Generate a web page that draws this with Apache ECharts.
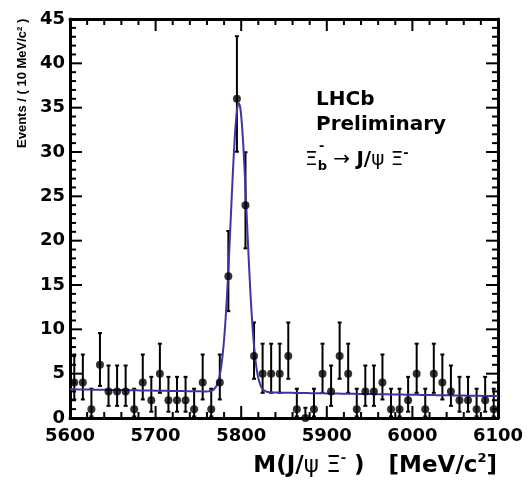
<!DOCTYPE html>
<html>
<head>
<meta charset="utf-8">
<script src="https://cdn.jsdelivr.net/npm/echarts@6/dist/echarts.min.js"></script>
<style>
html,body{margin:0;padding:0;background:#fff;}
#chart{width:528px;height:484px;}
</style>
</head>
<body>
<div id="chart"></div>
<script>
// ---- data ----
const binCenters = [5605,5615,5625,5635,5645,5655,5665,5675,5685,5695,
                    5705,5715,5725,5735,5745,5755,5765,5775,5785,5795,
                    5805,5815,5825,5835,5845,5855,5865,5875,5885,5895,
                    5905,5915,5925,5935,5945,5955,5965,5975,5985,5995,
                    6005,6015,6025,6035,6045,6055,6065,6075,6085,6095];
const counts = [4,4,1,6,3,3,3,1,4,2,
                5,2,2,2,1,4,1,4,16,36,
                24,7,5,5,5,7,1,0,1,5,
                3,7,5,1,3,3,4,1,1,2,
                5,1,5,4,3,2,2,1,2,1];
// Poisson 68% interval (low, high) by count
const poissonLow  = {0:0,    1:0.17, 2:0.71, 3:1.37, 4:2.09, 5:2.84, 6:3.62, 7:4.42, 16:12.05, 24:19.14, 36:30.03};
const poissonHigh = {0:1.15, 1:3.30, 2:4.64, 3:5.92, 4:7.16, 5:8.38, 6:9.58, 7:10.77, 16:21.09, 24:29.97, 36:43.06};
const xTicks = [5600,5700,5800,5900,6000,6100];
const yTicks = [0,5,10,15,20,25,30,35,40,45];
// fit model parameters (Gaussian signal + linear background)
const fitMean = 5797.2;
const fitSigma = 9.3;
const fitPeak = 32.6;
const bkgAt5600 = 3.24;
const bkgSlope = -0.00155;

const X_MIN = 5600, X_MAX = 6100, Y_MIN = 0, Y_MAX = 45;

const points = binCenters.map((x,i)=>[x, counts[i]]);
const errs = binCenters.map((x,i)=>[x, poissonLow[counts[i]], poissonHigh[counts[i]]]);
const fitCurve = [];
for (let m = X_MIN; m <= X_MAX; m += 0.5) {
  const d = (m - fitMean) / fitSigma;
  fitCurve.push([m, bkgAt5600 + bkgSlope*(m-X_MIN) + fitPeak*Math.exp(-0.5*d*d)]);
}
// tick marks (ROOT style: inside, on all four sides); minor step 20 on x, 1 on y
const tickMarks = [];
for (let v = X_MIN; v <= X_MAX; v += 20) tickMarks.push([v, 0, xTicks.includes(v) ? 1 : 0]);
for (let v = Y_MIN; v <= Y_MAX; v += 1) tickMarks.push([v, 1, yTicks.includes(v) ? 1 : 0]);

const chart = echarts.init(document.getElementById('chart'), null, {renderer:'canvas'});
const labelFont = () => ({fontFamily:'DejaVu Sans', fontWeight:'bold', fontSize:18, color:'#000'});
const axisCommon = () => ({
  axisLine:{show:true, onZero:false, lineStyle:{color:'#000', width:3}},
  axisTick:{show:false},
  minorTick:{show:false},
  splitLine:{show:false},
  minorSplitLine:{show:false}
});
chart.setOption({
  animation:false,
  backgroundColor:'#fff',
  grid:{left:70, right:30, top:19, bottom:66},
  xAxis:[
    Object.assign({type:'value', min:X_MIN, max:X_MAX, interval:100, position:'bottom',
      axisLabel:Object.assign({show:true, margin:9, formatter:v=>xTicks.includes(v)?String(v):''}, labelFont())}, axisCommon()),
    Object.assign({type:'value', min:X_MIN, max:X_MAX, interval:100, position:'top',
      axisLabel:{show:false}}, axisCommon())
  ],
  yAxis:[
    Object.assign({type:'value', min:Y_MIN, max:Y_MAX, interval:5, position:'left',
      axisLabel:Object.assign({show:true, margin:5, formatter:v=>yTicks.includes(v)?String(v):''}, labelFont())}, axisCommon()),
    Object.assign({type:'value', min:Y_MIN, max:Y_MAX, interval:5, position:'right',
      axisLabel:{show:false}}, axisCommon())
  ],
  series:[
    {
      type:'custom',
      xAxisIndex:0, yAxisIndex:0,
      data:tickMarks,
      clip:false,
      silent:true,
      renderItem:function(params, api){
        const v = api.value(0), isY = api.value(1), major = api.value(2);
        const len = major ? 12 : 6;
        const st = {stroke:'#000', lineWidth:2};
        if (!isY) {
          const pb = api.coord([v, Y_MIN]);
          const pt = api.coord([v, Y_MAX]);
          return {type:'group', children:[
            {type:'line', shape:{x1:pb[0], y1:pb[1], x2:pb[0], y2:pb[1]-len}, style:st},
            {type:'line', shape:{x1:pt[0], y1:pt[1], x2:pt[0], y2:pt[1]+len}, style:st}
          ]};
        } else {
          const pl = api.coord([X_MIN, v]);
          const pr = api.coord([X_MAX, v]);
          return {type:'group', children:[
            {type:'line', shape:{x1:pl[0], y1:pl[1], x2:pl[0]+len, y2:pl[1]}, style:st},
            {type:'line', shape:{x1:pr[0], y1:pr[1], x2:pr[0]-len, y2:pr[1]}, style:st}
          ]};
        }
      },
      z:2
    },
    {
      type:'custom',
      xAxisIndex:0, yAxisIndex:0,
      data:errs,
      renderItem:function(params, api){
        const x = api.value(0), lo = api.value(1), hi = api.value(2);
        const pLo = api.coord([x, lo]);
        const pHi = api.coord([x, hi]);
        const st = {stroke:'#000', lineWidth:2};
        return {type:'group', children:[
          {type:'line', shape:{x1:pLo[0], y1:pLo[1], x2:pHi[0], y2:pHi[1]}, style:st},
          {type:'line', shape:{x1:pHi[0]-2, y1:pHi[1], x2:pHi[0]+2, y2:pHi[1]}, style:st},
          {type:'line', shape:{x1:pLo[0]-2, y1:pLo[1], x2:pLo[0]+2, y2:pLo[1]}, style:st}
        ]};
      },
      z:3
    },
    {
      type:'line',
      xAxisIndex:0, yAxisIndex:0,
      data:fitCurve,
      showSymbol:false,
      smooth:false,
      lineStyle:{color:'#3b36a6', width:2},
      z:4
    },
    {
      type:'scatter',
      xAxisIndex:0, yAxisIndex:0,
      data:points,
      symbol:'circle',
      symbolSize:8,
      itemStyle:{color:'#000'},
      z:5
    },
    {
      type:'scatter', xAxisIndex:1, yAxisIndex:1, data:[], silent:true
    }
  ],
  graphic:[
    {type:'text', x:22, y:148, rotation:Math.PI/2,
      style:{text:'Events / ( 10 MeV/c² )', fontFamily:'Liberation Sans', fontWeight:'bold', fontSize:13,
        fill:'#000', textAlign:'left', textVerticalAlign:'middle'}},
    {type:'text', x:316, y:100,
      style:{text:'LHCb', fontFamily:'DejaVu Sans', fontWeight:'bold', fontSize:20, fill:'#000',
        textAlign:'left', textVerticalAlign:'middle'}},
    {type:'text', x:316, y:125,
      style:{text:'Preliminary', fontFamily:'DejaVu Sans', fontWeight:'bold', fontSize:20, fill:'#000',
        textAlign:'left', textVerticalAlign:'middle'}},
    {type:'text', x:305, y:160,
      style:{text:'{g|Ξ}{sub|b}{g| → }{m|J/}{g|ψ Ξ}{sup|-}',
        textAlign:'left', textVerticalAlign:'middle', fill:'#000',
        rich:{
          g:{fontFamily:'DejaVu Sans', fontSize:20, fill:'#000', lineHeight:26},
          m:{fontFamily:'DejaVu Sans', fontWeight:'bold', fontSize:20, fill:'#000', lineHeight:26},
          sub:{fontFamily:'DejaVu Sans', fontWeight:'bold', fontSize:13, fill:'#000', verticalAlign:'bottom', lineHeight:26},
          sup:{fontFamily:'DejaVu Sans', fontWeight:'bold', fontSize:13, fill:'#000', verticalAlign:'top', lineHeight:26}
        }}},
    {type:'text', x:319, y:147,
      style:{text:'-', fontFamily:'DejaVu Sans', fontWeight:'bold', fontSize:13, fill:'#000',
        textAlign:'left', textVerticalAlign:'middle'}},
    {type:'text', x:497, y:466,
      style:{text:'{m|M(J/}{g|ψ Ξ}{sup|-}{m| )   [MeV/c}{sup|2}{m|]}',
        textAlign:'right', textVerticalAlign:'middle', fill:'#000',
        rich:{
          g:{fontFamily:'DejaVu Sans', fontSize:23, fill:'#000', lineHeight:28},
          m:{fontFamily:'DejaVu Sans', fontWeight:'bold', fontSize:23, fill:'#000', lineHeight:28},
          sup:{fontFamily:'DejaVu Sans', fontWeight:'bold', fontSize:13, fill:'#000', verticalAlign:'top', lineHeight:28}
        }}}
  ]
});
</script>
</body>
</html>
